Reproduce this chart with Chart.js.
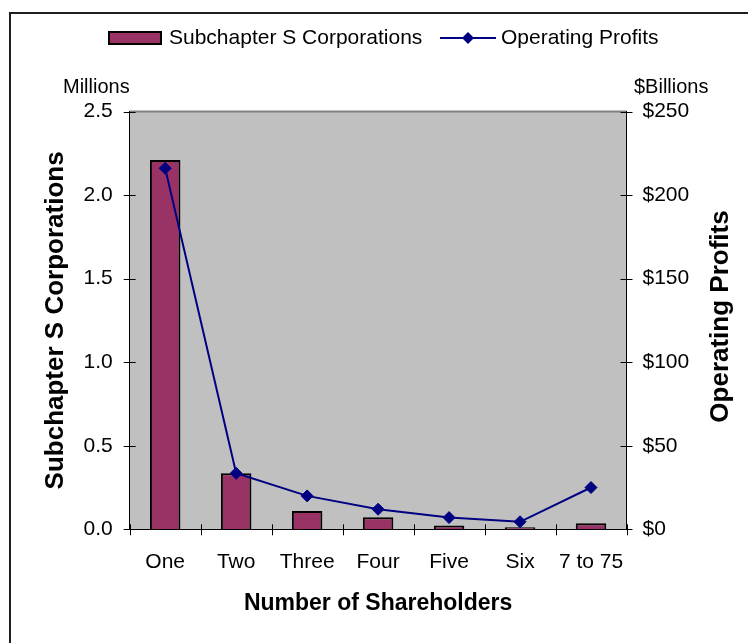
<!DOCTYPE html>
<html>
<head>
<meta charset="utf-8">
<script src="https://cdn.jsdelivr.net/npm/chart.js@4"></script>
<style>
html,body{margin:0;padding:0;background:#fff;}
#wrap{width:748px;height:643px;position:relative;}
canvas{display:block;}
</style>
</head>
<body>
<div id="wrap"><canvas id="c" width="748" height="643"></canvas></div>
<script>
// ---- data ----
const categories = ['One', 'Two', 'Three', 'Four', 'Five', 'Six', '7 to 75'];
const corporations = [2.21, 0.335, 0.11, 0.072, 0.022, 0.012, 0.036];   // millions
const operatingProfits = [216, 33.5, 20, 12, 7, 4.5, 25];                // $ billions
const leftTickLabels = ['0.0', '0.5', '1.0', '1.5', '2.0', '2.5'];
const rightTickLabels = ['$0', '$50', '$100', '$150', '$200', '$250'];
const barSeriesName = 'Subchapter S Corporations';
const lineSeriesName = 'Operating Profits';
const leftUnit = 'Millions';
const rightUnit = '$Billions';
const xTitle = 'Number of Shareholders';
const leftTitle = 'Subchapter S Corporations';
const rightTitle = 'Operating Profits';

const FONT = "'Liberation Sans', Arial, Helvetica, sans-serif";
const BAR_COLOR = '#993366';
const LINE_COLOR = '#000080';

const decor = {
  id: 'decor',
  beforeDraw(chart) {
    const {ctx, chartArea: a} = chart;
    ctx.save();
    ctx.fillStyle = '#ffffff';
    ctx.fillRect(0, 0, chart.width, chart.height);
    ctx.fillStyle = '#C0C0C0';
    ctx.fillRect(a.left, a.top, a.right - a.left, a.bottom - a.top);
    ctx.strokeStyle = '#808080';
    ctx.lineWidth = 2;
    ctx.beginPath();
    ctx.moveTo(a.left, a.top);
    ctx.lineTo(a.right, a.top);
    ctx.stroke();
    ctx.strokeStyle = '#1e1e1e';
    ctx.lineWidth = 2;
    ctx.strokeRect(10, 13, chart.width + 40, chart.height + 40);
    ctx.restore();
  },
  afterDraw(chart) {
    const {ctx, chartArea: a} = chart;
    const x = chart.scales.x, y = chart.scales.y, y1 = chart.scales.y1;
    ctx.save();
    ctx.strokeStyle = '#000';
    ctx.lineWidth = 1;
    const seg = (x0, y0, x1, y1_) => { ctx.beginPath(); ctx.moveTo(x0, y0); ctx.lineTo(x1, y1_); ctx.stroke(); };
    y.ticks.forEach((t, i) => {
      const py = Math.round(y.getPixelForTick(i)) + 0.5;
      seg(a.left - 6, py, a.left + 6, py);
    });
    y1.ticks.forEach((t, i) => {
      const py = Math.round(y1.getPixelForTick(i)) + 0.5;
      seg(a.right - 6, py, a.right + 6, py);
    });
    const n = categories.length;
    for (let i = 0; i <= n; i++) {
      let px;
      if (i === 0) px = a.left;
      else if (i === n) px = a.right;
      else px = (x.getPixelForValue(i - 1) + x.getPixelForValue(i)) / 2;
      px = Math.round(px) + 0.5;
      seg(px, a.bottom - 5, px, a.bottom + 6);
    }

    ctx.fillStyle = '#000';
    ctx.font = '20px ' + FONT;
    ctx.textBaseline = 'middle';
    ctx.textAlign = 'left';
    ctx.fillText(leftUnit, 63, 87);
    ctx.fillText(rightUnit, 634, 87);

    ctx.save();
    ctx.translate(721, 316.5);
    ctx.rotate(-Math.PI / 2);
    ctx.font = 'bold 26px ' + FONT;
    ctx.textAlign = 'center';
    ctx.textBaseline = 'middle';
    ctx.fillText(rightTitle, 0, 0);
    ctx.restore();

    // legend
    const barDs = chart.data.datasets.find(d => d.type === 'bar');
    const lineDs = chart.data.datasets.find(d => d.type === 'line');
    ctx.font = '21px ' + FONT;
    ctx.textAlign = 'left';
    ctx.textBaseline = 'middle';
    ctx.fillStyle = BAR_COLOR;
    ctx.fillRect(109, 32, 52, 12);
    ctx.strokeStyle = '#000';
    ctx.lineWidth = 2;
    ctx.strokeRect(109, 32, 52, 12);
    ctx.fillStyle = '#000';
    ctx.fillText(barDs.label, 169, 38);
    ctx.strokeStyle = LINE_COLOR;
    ctx.lineWidth = 2;
    seg(440, 38, 496, 38);
    ctx.fillStyle = LINE_COLOR;
    ctx.beginPath();
    ctx.moveTo(468, 32); ctx.lineTo(474, 38); ctx.lineTo(468, 44); ctx.lineTo(462, 38);
    ctx.closePath();
    ctx.fill();
    ctx.fillStyle = '#000';
    ctx.fillText(lineDs.label, 501, 38);
    ctx.restore();
  }
};

new Chart(document.getElementById('c'), {
  type: 'bar',
  data: {
    labels: categories,
    datasets: [
      {
        type: 'line',
        label: lineSeriesName,
        data: operatingProfits,
        yAxisID: 'y1',
        borderColor: LINE_COLOR,
        backgroundColor: LINE_COLOR,
        borderWidth: 2,
        pointStyle: 'rectRot',
        pointRadius: 6,
        pointBackgroundColor: LINE_COLOR,
        pointBorderColor: LINE_COLOR,
        pointBorderWidth: 1,
        tension: 0,
        fill: false,
        order: 1
      },
      {
        type: 'bar',
        label: barSeriesName,
        data: corporations,
        yAxisID: 'y',
        backgroundColor: BAR_COLOR,
        borderColor: '#000',
        borderWidth: 2,
        barPercentage: 0.43,
        categoryPercentage: 1,
        order: 2
      }
    ]
  },
  options: {
    responsive: false,
    animation: false,
    devicePixelRatio: 1,
    layout: { padding: { top: 111.5, left: 0, right: 0, bottom: 0 } },
    plugins: {
      legend: { display: false },
      tooltip: { enabled: false }
    },
    scales: {
      x: {
        offset: true,
        grid: { display: false, drawTicks: false },
        border: { display: true, color: '#000', width: 1 },
        ticks: { color: '#000', font: { family: FONT, size: 21 }, padding: 20, maxRotation: 0, autoSkip: false },
        title: { display: true, text: xTitle, color: '#000', font: { family: FONT, size: 23, weight: 'bold' }, padding: { top: 0, bottom: 26 } },
        afterFit(s) { s.height = 113.7; }
      },
      y: {
        position: 'left',
        min: 0, max: 2.5,
        grid: { display: false, drawTicks: false },
        border: { display: true, color: '#000', width: 1 },
        ticks: { stepSize: 0.5, color: '#000', font: { family: FONT, size: 21 }, padding: 17,
                 callback: (v, i) => leftTickLabels[i] },
        title: { display: true, text: leftTitle, color: '#000', font: { family: FONT, size: 26, weight: 'bold' }, padding: { top: 40, bottom: 0 } },
        afterFit(s) { s.width = 129.7; }
      },
      y1: {
        position: 'right',
        min: 0, max: 250,
        grid: { display: false, drawTicks: false },
        border: { display: true, color: '#000', width: 1 },
        ticks: { stepSize: 50, color: '#000', font: { family: FONT, size: 21 }, padding: 16,
                 callback: (v, i) => rightTickLabels[i] },
        afterFit(s) { s.width = 121.5; }
      }
    }
  },
  plugins: [decor]
});
</script>
</body>
</html>
